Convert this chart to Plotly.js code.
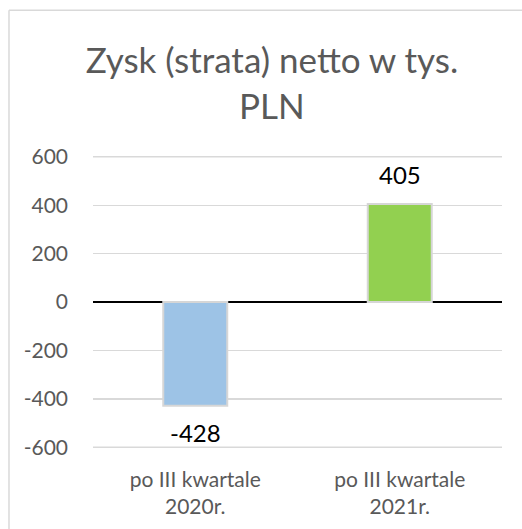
<!DOCTYPE html>
<html>
<head>
<meta charset="utf-8">
<script src="https://cdn.plot.ly/plotly-3.0.1.min.js"></script>
<style>
html, body { margin: 0; padding: 0; background: #fff; }
#chart { width: 522px; height: 529px; }
</style>
</head>
<body>
<div id="chart"></div>
<script>
const categories = ["po III kwartale<br>2020r.", "po III kwartale<br>2021r."];
const values = [-428, 405];
const barColors = ["#9DC3E6", "#92D050"];
const valueLabels = ["-428", "405"];
const yTicks = [-600, -400, -200, 0, 200, 400, 600];
const titleText = "Zysk (strata) netto w tys.<br>PLN";

const FONT = "Lato, 'Open Sans', sans-serif";
const GREY = "#595959";
const GRID = "#d9d9d9";

const trace = {
  type: "bar",
  x: categories,
  y: values,
  marker: { color: barColors, line: { color: "#d6d6d6", width: 2 } },
  hoverinfo: "none"
};

const annotations = categories.map((c, i) => ({
  x: c, y: values[i], xref: "x", yref: "y",
  text: valueLabels[i], showarrow: false,
  yanchor: "middle",
  yshift: values[i] >= 0 ? 29 : -27,
  font: { family: FONT, size: 24, color: "#000" }
}));

// gridlines at the ends of the axis (drawn through the y scale)
const edgeGrid = [yTicks[0], yTicks[yTicks.length - 1]].map(v => ({
  type: "line", xref: "paper", yref: "y", x0: 0, x1: 1, y0: v, y1: v,
  layer: "below", line: { color: GRID, width: 1.3 }
}));

const layout = {
  width: 522, height: 529,
  margin: { l: 93, r: 20, t: 156, b: 81, pad: 0 },
  paper_bgcolor: "#fff", plot_bgcolor: "#fff",
  showlegend: false,
  bargap: 0.687,
  title: {
    text: titleText,
    font: { family: FONT, size: 35, color: GREY },
    x: 0.521, xref: "container", xanchor: "center",
    y: 0.862, yref: "container", yanchor: "bottom"
  },
  xaxis: {
    type: "category",
    showgrid: false, showline: false, zeroline: false,
    ticks: "",
    tickfont: { family: FONT, size: 21, color: GREY },
    ticklabelstandoff: 17
  },
  yaxis: {
    range: [-603, 603],
    tickvals: yTicks,
    ticktext: yTicks.map(String),
    showgrid: true, gridcolor: GRID, gridwidth: 1.3,
    zeroline: true, zerolinecolor: "#000", zerolinewidth: 2,
    showline: false, ticks: "",
    tickfont: { family: FONT, size: 21, color: GREY },
    ticklabelstandoff: 24
  },
  annotations: annotations,
  shapes: edgeGrid.concat([
    { type: "line", xref: "paper", yref: "paper", x0: -0.2054, x1: 1.2, y0: 1.4988, y1: 1.4988,
      line: { color: GRID, width: 1.5 } },
    { type: "line", xref: "paper", yref: "paper", x0: -0.2054, x1: -0.2054, y0: 1.4988, y1: -0.4,
      line: { color: GRID, width: 1.5 } }
  ])
};

Plotly.newPlot("chart", [trace], layout, { displayModeBar: false, staticPlot: true });
</script>
</body>
</html>
